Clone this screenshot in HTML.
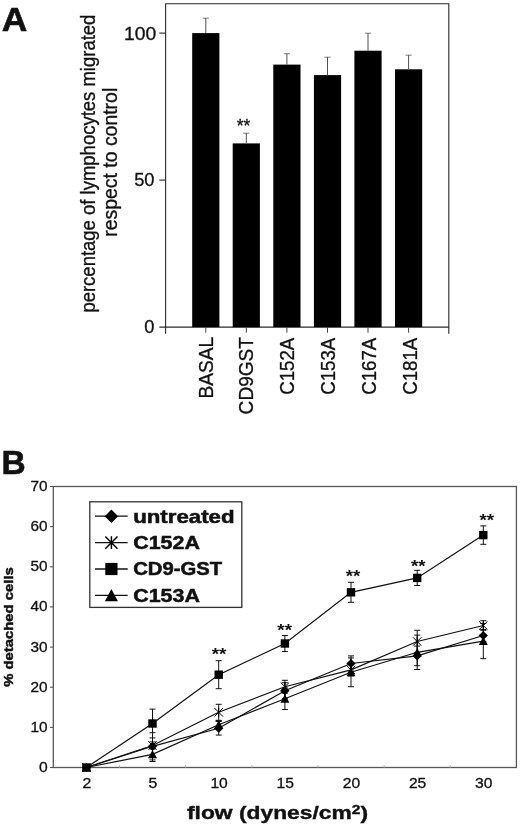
<!DOCTYPE html>
<html><head><meta charset="utf-8"><title>Figure</title>
<style>html,body{margin:0;padding:0;background:#fff;}body{width:520px;height:827px;overflow:hidden;position:relative;}svg{display:block;position:absolute;left:0;top:0;will-change:transform;filter:grayscale(1);}text{font-family:"Liberation Sans",sans-serif;fill:#111;}.a{stroke:#111;stroke-width:0.3px;}.ab{stroke:#111;stroke-width:0.6px;stroke-linejoin:round;}.v{stroke:#111;stroke-width:0.3px;}.vb{stroke:#111;stroke-width:0.45px;}.vb2{stroke:#111;stroke-width:0.4px;}.vb3{stroke:#111;stroke-width:0.5px;}</style>
</head><body>
<svg width="520" height="827" viewBox="0 0 520 827">
<rect x="0" y="0" width="520" height="827" fill="#ffffff"/>
<!-- Panel A -->
<text transform="translate(1.7 31.2) scale(1.075 1)" font-size="33" font-weight="bold" class="ab">A</text>
<path d="M165.6 333.70000000000005 V3.7 H448.8 V333.70000000000005" fill="none" stroke="#2a2a2a" stroke-width="1.1"/>
<path d="M159.29999999999998 327.1 H448.8" fill="none" stroke="#2a2a2a" stroke-width="1.1"/>
<path d="M159.29999999999998 33.1 H165.6" stroke="#2a2a2a" stroke-width="1.1"/>
<text transform="translate(156.3 39.7) scale(1.055 1)" font-size="18.3" text-anchor="end" class="a">100</text>
<path d="M159.29999999999998 180.1 H165.6" stroke="#2a2a2a" stroke-width="1.1"/>
<text transform="translate(154.5 186.0) scale(1.0 1)" font-size="18.3" text-anchor="end" class="a">50</text>
<text transform="translate(154.4 332.8) scale(1.0 1)" font-size="18.3" text-anchor="end" class="a">0</text>
<rect x="192.2" y="33.1" width="27.2" height="294.0" fill="#000"/>
<path d="M205.8 33.1 V18.0" stroke="#505050" stroke-width="1" fill="none"/><path d="M202.7 18.2 H208.9" stroke="#606060" stroke-width="0.8" fill="none"/>
<path d="M205.8 327.1 V332.70000000000005" stroke="#444" stroke-width="1"/>
<text transform="translate(212.9 337.0) rotate(-90) scale(1 1.04)" font-size="19.1" text-anchor="end" class="a">BASAL</text>
<rect x="232.7" y="143.4" width="27.2" height="183.8" fill="#000"/>
<path d="M246.3 143.4 V133.0" stroke="#505050" stroke-width="1" fill="none"/><path d="M243.2 133.2 H249.4" stroke="#606060" stroke-width="0.8" fill="none"/>
<path d="M246.3 327.1 V332.70000000000005" stroke="#444" stroke-width="1"/>
<text transform="translate(253.4 337.0) rotate(-90) scale(1 1.04)" font-size="19.1" text-anchor="end" class="a">CD9GST</text>
<rect x="273.3" y="64.6" width="27.2" height="262.5" fill="#000"/>
<path d="M286.9 64.6 V53.5" stroke="#505050" stroke-width="1" fill="none"/><path d="M283.8 53.7 H290.0" stroke="#606060" stroke-width="0.8" fill="none"/>
<path d="M286.9 327.1 V332.70000000000005" stroke="#444" stroke-width="1"/>
<text transform="translate(294.0 337.8) rotate(-90) scale(1 1.04)" font-size="19.1" text-anchor="end" class="a" textLength="57.0" lengthAdjust="spacingAndGlyphs">C152A</text>
<rect x="313.9" y="75.1" width="27.2" height="252.0" fill="#000"/>
<path d="M327.5 75.1 V57.0" stroke="#505050" stroke-width="1" fill="none"/><path d="M324.4 57.2 H330.6" stroke="#606060" stroke-width="0.8" fill="none"/>
<path d="M327.5 327.1 V332.70000000000005" stroke="#444" stroke-width="1"/>
<text transform="translate(335.4 337.8) rotate(-90) scale(1 1.04)" font-size="19.1" text-anchor="end" class="a" textLength="57.0" lengthAdjust="spacingAndGlyphs">C153A</text>
<rect x="354.4" y="50.7" width="27.2" height="276.4" fill="#000"/>
<path d="M368.0 50.7 V33.0" stroke="#505050" stroke-width="1" fill="none"/><path d="M364.9 33.2 H371.1" stroke="#606060" stroke-width="0.8" fill="none"/>
<path d="M368.0 327.1 V332.70000000000005" stroke="#444" stroke-width="1"/>
<text transform="translate(375.9 337.8) rotate(-90) scale(1 1.04)" font-size="19.1" text-anchor="end" class="a" textLength="57.0" lengthAdjust="spacingAndGlyphs">C167A</text>
<rect x="395.0" y="69.3" width="27.2" height="257.8" fill="#000"/>
<path d="M408.6 69.3 V55.0" stroke="#505050" stroke-width="1" fill="none"/><path d="M405.5 55.2 H411.7" stroke="#606060" stroke-width="0.8" fill="none"/>
<path d="M408.6 327.1 V332.70000000000005" stroke="#444" stroke-width="1"/>
<text transform="translate(416.5 337.8) rotate(-90) scale(1 1.04)" font-size="19.1" text-anchor="end" class="a" textLength="57.0" lengthAdjust="spacingAndGlyphs">C181A</text>
<text x="243.6" y="132.4" font-size="17.5" text-anchor="middle" class="a">**</text>
<text transform="translate(94.8 163.6) rotate(-90) scale(1 1.05)" font-size="18.5" text-anchor="middle" class="a">percentage of lymphocytes migrated</text>
<text transform="translate(116.8 162.3) rotate(-90) scale(1 1.05)" font-size="18.5" text-anchor="middle" class="a" textLength="149" lengthAdjust="spacingAndGlyphs">respect to control</text>
<!-- Panel B -->
<text transform="translate(1.6 473.8) scale(1.03 1)" font-size="32.5" font-weight="bold" class="ab">B</text>
<rect x="53.3" y="486.5" width="463.1" height="281.0" fill="none" stroke="#585858" stroke-width="1.3"/>
<path d="M50.0 767.5 H53.3" stroke="#585858" stroke-width="1.1"/>
<text x="47.6" y="771.9" font-size="14.8" text-anchor="end" textLength="8.7" lengthAdjust="spacingAndGlyphs" class="v">0</text>
<path d="M50.0 727.4 H53.3" stroke="#585858" stroke-width="1.1"/>
<text x="47.6" y="731.8" font-size="14.8" text-anchor="end" textLength="17.1" lengthAdjust="spacingAndGlyphs" class="v">10</text>
<path d="M50.0 687.2 H53.3" stroke="#585858" stroke-width="1.1"/>
<text x="47.6" y="691.6" font-size="14.8" text-anchor="end" textLength="17.1" lengthAdjust="spacingAndGlyphs" class="v">20</text>
<path d="M50.0 647.1 H53.3" stroke="#585858" stroke-width="1.1"/>
<text x="47.6" y="651.5" font-size="14.8" text-anchor="end" textLength="17.1" lengthAdjust="spacingAndGlyphs" class="v">30</text>
<path d="M50.0 606.9 H53.3" stroke="#585858" stroke-width="1.1"/>
<text x="47.6" y="611.3" font-size="14.8" text-anchor="end" textLength="17.1" lengthAdjust="spacingAndGlyphs" class="v">40</text>
<path d="M50.0 566.8 H53.3" stroke="#585858" stroke-width="1.1"/>
<text x="47.6" y="571.2" font-size="14.8" text-anchor="end" textLength="17.1" lengthAdjust="spacingAndGlyphs" class="v">50</text>
<path d="M50.0 526.6 H53.3" stroke="#585858" stroke-width="1.1"/>
<text x="47.6" y="531.0" font-size="14.8" text-anchor="end" textLength="17.1" lengthAdjust="spacingAndGlyphs" class="v">60</text>
<path d="M50.0 486.5 H53.3" stroke="#585858" stroke-width="1.1"/>
<text x="47.6" y="490.9" font-size="14.8" text-anchor="end" textLength="17.1" lengthAdjust="spacingAndGlyphs" class="v">70</text>
<text x="86.8" y="787.9" font-size="14.8" text-anchor="middle" textLength="8.8" lengthAdjust="spacingAndGlyphs" class="v">2</text>
<text x="152.9" y="787.9" font-size="14.8" text-anchor="middle" textLength="8.8" lengthAdjust="spacingAndGlyphs" class="v">5</text>
<text x="219.1" y="787.9" font-size="14.8" text-anchor="middle" textLength="17.4" lengthAdjust="spacingAndGlyphs" class="v">10</text>
<text x="285.2" y="787.9" font-size="14.8" text-anchor="middle" textLength="17.4" lengthAdjust="spacingAndGlyphs" class="v">15</text>
<text x="351.4" y="787.9" font-size="14.8" text-anchor="middle" textLength="17.4" lengthAdjust="spacingAndGlyphs" class="v">20</text>
<text x="417.6" y="787.9" font-size="14.8" text-anchor="middle" textLength="17.4" lengthAdjust="spacingAndGlyphs" class="v">25</text>
<text x="483.7" y="787.9" font-size="14.8" text-anchor="middle" textLength="17.4" lengthAdjust="spacingAndGlyphs" class="v">30</text>
<path d="M119.5 767.5 V765.0" stroke="#bbb" stroke-width="1"/>
<path d="M185.6 767.5 V765.0" stroke="#bbb" stroke-width="1"/>
<path d="M251.8 767.5 V765.0" stroke="#bbb" stroke-width="1"/>
<path d="M317.9 767.5 V765.0" stroke="#bbb" stroke-width="1"/>
<path d="M384.1 767.5 V765.0" stroke="#bbb" stroke-width="1"/>
<path d="M450.2 767.5 V765.0" stroke="#bbb" stroke-width="1"/>
<text transform="translate(13.2 627) rotate(-90)" font-size="13.4" font-weight="bold" class="vb" text-anchor="middle" textLength="119.5" lengthAdjust="spacingAndGlyphs">% detached cells</text>
<text x="187" y="819.2" font-size="19" font-weight="bold" class="vb2" textLength="181" lengthAdjust="spacingAndGlyphs">flow (dynes/cm<tspan font-size="13" dy="-5">2</tspan><tspan dy="5">)</tspan></text>
<polyline points="86.4,767.5 152.5,746.3 218.7,728.3 284.9,690.7 351.0,663.5 417.2,655.9 483.3,635.5" fill="none" stroke="#111" stroke-width="1.2"/>
<polyline points="86.4,767.5 152.5,745.5 218.7,712.3 284.9,686.7 351.0,669.9 417.2,641.5 483.3,625.5" fill="none" stroke="#111" stroke-width="1.2"/>
<polyline points="86.4,767.5 152.5,754.3 218.7,724.7 284.9,698.7 351.0,672.3 417.2,652.3 483.3,641.1" fill="none" stroke="#111" stroke-width="1.2"/>
<polyline points="86.4,767.5 152.5,723.5 218.7,674.7 284.9,643.5 351.0,592.3 417.2,577.9 483.3,535.1" fill="none" stroke="#111" stroke-width="1.2"/>
<path d="M152.5 732.7 V759.9 M149.5 732.7 H155.5 M149.5 759.9 H155.5" stroke="#111" stroke-width="1" fill="none"/>
<path d="M218.7 721.5 V735.1 M215.7 721.5 H221.7 M215.7 735.1 H221.7" stroke="#111" stroke-width="1" fill="none"/>
<path d="M284.9 682.7 V698.7 M281.9 682.7 H287.9 M281.9 698.7 H287.9" stroke="#111" stroke-width="1" fill="none"/>
<path d="M351.0 655.9 V671.1 M348.0 655.9 H354.0 M348.0 671.1 H354.0" stroke="#111" stroke-width="1" fill="none"/>
<path d="M417.2 646.1 V665.7 M414.2 646.1 H420.2 M414.2 665.7 H420.2" stroke="#111" stroke-width="1" fill="none"/>
<path d="M483.3 629.5 V641.5 M480.3 629.5 H486.3 M480.3 641.5 H486.3" stroke="#111" stroke-width="1" fill="none"/>
<path d="M152.5 741.9 V749.1 M149.5 741.9 H155.5 M149.5 749.1 H155.5" stroke="#111" stroke-width="1" fill="none"/>
<path d="M218.7 704.3 V720.3 M215.7 704.3 H221.7 M215.7 720.3 H221.7" stroke="#111" stroke-width="1" fill="none"/>
<path d="M284.9 680.3 V693.1 M281.9 680.3 H287.9 M281.9 693.1 H287.9" stroke="#111" stroke-width="1" fill="none"/>
<path d="M351.0 663.9 V675.9 M348.0 663.9 H354.0 M348.0 675.9 H354.0" stroke="#111" stroke-width="1" fill="none"/>
<path d="M417.2 630.3 V652.7 M414.2 630.3 H420.2 M414.2 652.7 H420.2" stroke="#111" stroke-width="1" fill="none"/>
<path d="M483.3 620.7 V630.3 M480.3 620.7 H486.3 M480.3 630.3 H486.3" stroke="#111" stroke-width="1" fill="none"/>
<path d="M152.5 747.1 V761.5 M149.5 747.1 H155.5 M149.5 761.5 H155.5" stroke="#111" stroke-width="1" fill="none"/>
<path d="M218.7 720.7 V728.7 M215.7 720.7 H221.7 M215.7 728.7 H221.7" stroke="#111" stroke-width="1" fill="none"/>
<path d="M284.9 687.9 V709.5 M281.9 687.9 H287.9 M281.9 709.5 H287.9" stroke="#111" stroke-width="1" fill="none"/>
<path d="M351.0 657.9 V686.7 M348.0 657.9 H354.0 M348.0 686.7 H354.0" stroke="#111" stroke-width="1" fill="none"/>
<path d="M417.2 635.1 V669.5 M414.2 635.1 H420.2 M414.2 669.5 H420.2" stroke="#111" stroke-width="1" fill="none"/>
<path d="M483.3 623.5 V658.7 M480.3 623.5 H486.3 M480.3 658.7 H486.3" stroke="#111" stroke-width="1" fill="none"/>
<path d="M152.5 709.1 V737.9 M149.5 709.1 H155.5 M149.5 737.9 H155.5" stroke="#111" stroke-width="1" fill="none"/>
<path d="M218.7 660.7 V688.7 M215.7 660.7 H221.7 M215.7 688.7 H221.7" stroke="#111" stroke-width="1" fill="none"/>
<path d="M284.9 635.5 V651.5 M281.9 635.5 H287.9 M281.9 651.5 H287.9" stroke="#111" stroke-width="1" fill="none"/>
<path d="M351.0 582.3 V602.3 M348.0 582.3 H354.0 M348.0 602.3 H354.0" stroke="#111" stroke-width="1" fill="none"/>
<path d="M417.2 570.3 V585.5 M414.2 570.3 H420.2 M414.2 585.5 H420.2" stroke="#111" stroke-width="1" fill="none"/>
<path d="M483.3 525.9 V544.3 M480.3 525.9 H486.3 M480.3 544.3 H486.3" stroke="#111" stroke-width="1" fill="none"/>
<path d="M86.4 762.9 L91.0 767.5 L86.4 772.1 L81.8 767.5 Z" fill="#000"/>
<path d="M152.5 741.7 L157.1 746.3 L152.5 750.9 L147.9 746.3 Z" fill="#000"/>
<path d="M218.7 723.7 L223.3 728.3 L218.7 732.9 L214.1 728.3 Z" fill="#000"/>
<path d="M284.9 686.1 L289.5 690.7 L284.9 695.3 L280.2 690.7 Z" fill="#000"/>
<path d="M351.0 658.9 L355.6 663.5 L351.0 668.1 L346.4 663.5 Z" fill="#000"/>
<path d="M417.2 651.3 L421.8 655.9 L417.2 660.5 L412.6 655.9 Z" fill="#000"/>
<path d="M483.3 630.9 L487.9 635.5 L483.3 640.1 L478.7 635.5 Z" fill="#000"/>
<path d="M82.2 763.3 L90.6 771.7 M90.6 763.3 L82.2 771.7 M86.4 763.1 V771.9" stroke="#000" stroke-width="1.00" fill="none"/>
<path d="M148.3 741.3 L156.7 749.7 M156.7 741.3 L148.3 749.7 M152.5 741.1 V749.9" stroke="#000" stroke-width="1.00" fill="none"/>
<path d="M214.5 708.1 L222.9 716.5 M222.9 708.1 L214.5 716.5 M218.7 707.9 V716.7" stroke="#000" stroke-width="1.00" fill="none"/>
<path d="M280.7 682.5 L289.1 690.9 M289.1 682.5 L280.7 690.9 M284.9 682.3 V691.1" stroke="#000" stroke-width="1.00" fill="none"/>
<path d="M346.8 665.7 L355.2 674.1 M355.2 665.7 L346.8 674.1 M351.0 665.5 V674.3" stroke="#000" stroke-width="1.00" fill="none"/>
<path d="M413.0 637.3 L421.4 645.7 M421.4 637.3 L413.0 645.7 M417.2 637.1 V645.9" stroke="#000" stroke-width="1.00" fill="none"/>
<path d="M479.1 621.3 L487.5 629.7 M487.5 621.3 L479.1 629.7 M483.3 621.1 V629.9" stroke="#000" stroke-width="1.00" fill="none"/>
<path d="M86.4 763.1 L90.9 771.5 L81.9 771.5 Z" fill="#000"/>
<path d="M152.5 749.9 L157.0 758.3 L148.0 758.3 Z" fill="#000"/>
<path d="M218.7 720.3 L223.2 728.7 L214.2 728.7 Z" fill="#000"/>
<path d="M284.9 694.3 L289.4 702.7 L280.4 702.7 Z" fill="#000"/>
<path d="M351.0 667.9 L355.5 676.3 L346.5 676.3 Z" fill="#000"/>
<path d="M417.2 647.9 L421.7 656.3 L412.7 656.3 Z" fill="#000"/>
<path d="M483.3 636.7 L487.8 645.1 L478.8 645.1 Z" fill="#000"/>
<rect x="82.2" y="763.3" width="8.4" height="8.4" fill="#000"/>
<rect x="148.3" y="719.3" width="8.4" height="8.4" fill="#000"/>
<rect x="214.5" y="670.5" width="8.4" height="8.4" fill="#000"/>
<rect x="280.7" y="639.3" width="8.4" height="8.4" fill="#000"/>
<rect x="346.8" y="588.1" width="8.4" height="8.4" fill="#000"/>
<rect x="413.0" y="573.7" width="8.4" height="8.4" fill="#000"/>
<rect x="479.1" y="530.9" width="8.4" height="8.4" fill="#000"/>
<text x="219.1" y="660.0" font-size="16" font-weight="bold" text-anchor="middle" textLength="14.6" lengthAdjust="spacingAndGlyphs">**</text>
<text x="284.65" y="636.4" font-size="16" font-weight="bold" text-anchor="middle" textLength="14.6" lengthAdjust="spacingAndGlyphs">**</text>
<text x="353.0" y="582.2" font-size="16" font-weight="bold" text-anchor="middle" textLength="14.6" lengthAdjust="spacingAndGlyphs">**</text>
<text x="418.35" y="571.6" font-size="16" font-weight="bold" text-anchor="middle" textLength="14.6" lengthAdjust="spacingAndGlyphs">**</text>
<text x="486.75" y="526.1" font-size="16" font-weight="bold" text-anchor="middle" textLength="14.6" lengthAdjust="spacingAndGlyphs">**</text>
<rect x="89.8" y="501.8" width="152.0" height="105.6" fill="#fff" stroke="#333" stroke-width="1.3"/>
<path d="M95.0 516.2 H127.7" stroke="#111" stroke-width="1.3"/>
<path d="M111.4 509.5 L118.1 516.2 L111.4 522.9 L104.7 516.2 Z" fill="#000"/>
<text x="133.2" y="522.5" font-size="18.2" font-weight="bold" textLength="101.3" lengthAdjust="spacingAndGlyphs" class="vb3">untreated</text>
<path d="M95.0 542.6 H127.7" stroke="#111" stroke-width="1.3"/>
<path d="M105.3 536.5 L117.5 548.7 M117.5 536.5 L105.3 548.7 M111.4 536.2 V549.0" stroke="#000" stroke-width="1.45" fill="none"/>
<text x="133.2" y="548.9" font-size="18.2" font-weight="bold" textLength="66.7" lengthAdjust="spacingAndGlyphs" class="vb3">C152A</text>
<path d="M95.0 569.0 H127.7" stroke="#111" stroke-width="1.3"/>
<rect x="105.3" y="562.9" width="12.2" height="12.2" fill="#000"/>
<text x="133.2" y="575.3" font-size="18.2" font-weight="bold" textLength="88.8" lengthAdjust="spacingAndGlyphs" class="vb3">CD9-GST</text>
<path d="M95.0 595.4 H127.7" stroke="#111" stroke-width="1.3"/>
<path d="M111.4 589.0 L117.9 601.2 L104.9 601.2 Z" fill="#000"/>
<text x="133.2" y="601.7" font-size="18.2" font-weight="bold" textLength="66.7" lengthAdjust="spacingAndGlyphs" class="vb3">C153A</text>
</svg>
</body></html>
